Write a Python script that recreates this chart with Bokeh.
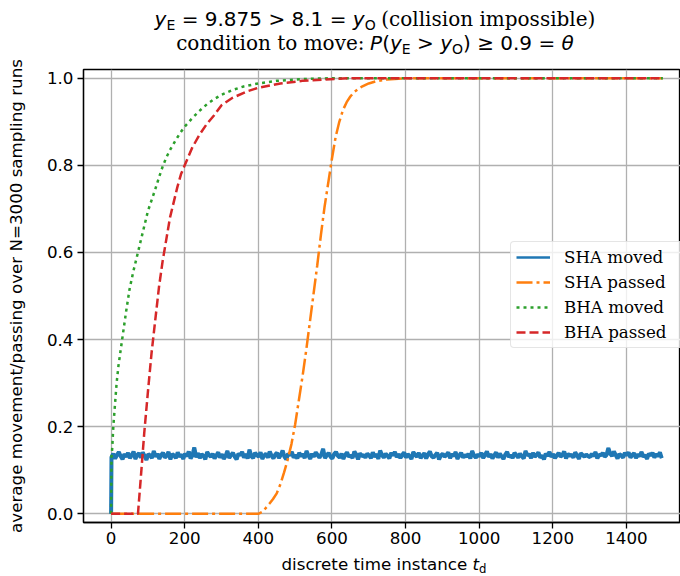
from bokeh.plotting import figure
from bokeh.models import Legend, LegendItem, Div, FixedTicker, NumeralTickFormatter
from bokeh.layouts import column
from bokeh.embed import file_html
from bokeh.resources import INLINE

# ---------------- data ----------------
x_ticks = [0, 200, 400, 600, 800, 1000, 1200, 1400]
y_ticks = [0.0, 0.2, 0.4, 0.6, 0.8, 1.0]
series_names = ["SHA moved", "SHA passed", "BHA moved", "BHA passed"]

# SHA moved: noisy plateau (sampled every 5 time steps after t=0)
blue_t = [0] + list(range(1, 1500, 5))
blue_moved = [0.000,
    0.130, 0.138, 0.127, 0.135, 0.142, 0.132, 0.125, 0.137, 0.131, 0.140, 0.128, 0.134, 0.143, 0.126, 0.135, 0.139, 0.129, 0.141, 0.133, 0.124,
    0.137, 0.134, 0.128, 0.144, 0.131, 0.138, 0.126, 0.135, 0.140, 0.129, 0.133, 0.142, 0.125, 0.137, 0.134, 0.128, 0.141, 0.131, 0.136, 0.126,
    0.138, 0.132, 0.143, 0.127, 0.134, 0.152, 0.130, 0.139, 0.128, 0.137, 0.133, 0.125, 0.142, 0.135, 0.131, 0.138, 0.127, 0.134, 0.141, 0.129,
    0.137, 0.126, 0.133, 0.144, 0.128, 0.135, 0.140, 0.131, 0.125, 0.138, 0.134, 0.142, 0.129, 0.137, 0.127, 0.147, 0.132, 0.128, 0.140, 0.135,
    0.131, 0.141, 0.126, 0.134, 0.138, 0.129, 0.143, 0.133, 0.127, 0.136, 0.140, 0.128, 0.135, 0.145, 0.131, 0.125, 0.138, 0.134, 0.142, 0.129,
    0.135, 0.127, 0.140, 0.132, 0.137, 0.128, 0.144, 0.134, 0.126, 0.138, 0.131, 0.141, 0.135, 0.129, 0.136, 0.149, 0.128, 0.134, 0.140, 0.131,
    0.127, 0.137, 0.142, 0.133, 0.129, 0.138, 0.126, 0.135, 0.141, 0.131, 0.134, 0.128, 0.143, 0.136, 0.125, 0.139, 0.132, 0.135, 0.129, 0.138,
    0.134, 0.128, 0.141, 0.131, 0.137, 0.126, 0.145, 0.135, 0.129, 0.138, 0.133, 0.127, 0.140, 0.134, 0.142, 0.130, 0.137, 0.128, 0.135, 0.141,
    0.129, 0.137, 0.132, 0.126, 0.142, 0.135, 0.131, 0.140, 0.128, 0.134, 0.139, 0.127, 0.136, 0.143, 0.132, 0.129, 0.135, 0.140, 0.125, 0.134,
    0.138, 0.131, 0.135, 0.141, 0.128, 0.137, 0.132, 0.142, 0.126, 0.134, 0.140, 0.129, 0.135, 0.131, 0.138, 0.127, 0.144, 0.134, 0.129, 0.136,
    0.132, 0.140, 0.128, 0.135, 0.143, 0.131, 0.137, 0.127, 0.134, 0.141, 0.129, 0.138, 0.132, 0.126, 0.136, 0.142, 0.130, 0.135, 0.128, 0.140,
    0.135, 0.129, 0.138, 0.132, 0.127, 0.144, 0.134, 0.137, 0.128, 0.140, 0.131, 0.135, 0.141, 0.129, 0.134, 0.125, 0.138, 0.133, 0.142, 0.131,
    0.137, 0.128, 0.134, 0.140, 0.131, 0.135, 0.143, 0.127, 0.138, 0.133, 0.136, 0.129, 0.141, 0.134, 0.126, 0.139, 0.135, 0.131, 0.136, 0.132,
    0.130, 0.138, 0.132, 0.142, 0.127, 0.136, 0.134, 0.140, 0.131, 0.135, 0.151, 0.138, 0.133, 0.143, 0.135, 0.127, 0.137, 0.134, 0.129, 0.140,
    0.134, 0.141, 0.129, 0.135, 0.139, 0.128, 0.136, 0.132, 0.142, 0.131, 0.135, 0.126, 0.138, 0.134, 0.140, 0.129, 0.137, 0.132, 0.141, 0.128,
]

# SHA passed
orange_t = [0, 400, 410, 420, 430, 440, 450, 460, 470, 480, 490, 500, 510, 520, 530, 540, 550, 560,
            570, 580, 590, 600, 610, 620, 630, 640, 650, 660, 680, 700, 720, 750, 800, 1499]
sha_passed = [0, 0, 0.004, 0.013, 0.023, 0.034, 0.047, 0.068, 0.095, 0.125, 0.16, 0.205, 0.26, 0.315,
              0.375, 0.44, 0.505, 0.57, 0.64, 0.705, 0.76, 0.815, 0.865, 0.9, 0.927, 0.945, 0.958,
              0.968, 0.98, 0.988, 0.993, 0.997, 1.0, 1.0]

# BHA moved
green_t = [0, 1, 3, 6, 10, 15, 20, 30, 40, 50, 60, 70, 80, 90, 100, 110, 120, 130, 140, 150, 160,
           170, 180, 190, 200, 220, 240, 260, 280, 300, 330, 360, 400, 450, 500, 550, 600, 1499]
bha_moved = [0, 0.13, 0.15, 0.2, 0.245, 0.3, 0.34, 0.4, 0.46, 0.515, 0.555, 0.59, 0.625, 0.66, 0.695,
             0.72, 0.745, 0.772, 0.797, 0.818, 0.835, 0.85, 0.864, 0.877, 0.889, 0.908, 0.925, 0.94,
             0.952, 0.962, 0.973, 0.981, 0.988, 0.994, 0.997, 0.999, 1.0, 1.0]

# BHA passed
red_t = [0, 73, 80, 90, 100, 110, 120, 130, 140, 150, 160, 170, 180, 190, 200, 220, 240, 260, 280,
         300, 330, 370, 400, 460, 520, 580, 650, 1499]
bha_passed = [0, 0, 0.075, 0.185, 0.28, 0.37, 0.445, 0.52, 0.58, 0.63, 0.68, 0.715, 0.75, 0.78, 0.80,
              0.84, 0.87, 0.895, 0.915, 0.938, 0.955, 0.97, 0.978, 0.988, 0.994, 0.997, 1.0, 1.0]

# ---------------- figure ----------------
SANS = "DejaVu Sans"
SERIF = "DejaVu Serif"
FS = "16.7px"

p = figure(width=680, height=492, x_range=(-75, 1547), y_range=(-0.02, 1.02),
           output_backend="svg", toolbar_location=None,
           min_border_left=83, min_border_right=0, min_border_top=9, min_border_bottom=30)
p.background_fill_color = "white"
p.border_fill_color = "white"
p.outline_line_color = "black"
p.outline_line_width = 1.3

p.xaxis.ticker = FixedTicker(ticks=x_ticks)
p.yaxis.ticker = FixedTicker(ticks=y_ticks)
p.yaxis.formatter = NumeralTickFormatter(format="0.0")

for ax in (p.xaxis[0], p.yaxis[0]):
    ax.axis_line_color = "black"
    ax.axis_line_width = 1.3
    ax.major_tick_line_color = "black"
    ax.major_tick_line_width = 1.3
    ax.major_tick_out = 6
    ax.major_tick_in = 0
    ax.minor_tick_line_color = None
    ax.major_label_text_font = SANS
    ax.major_label_text_font_size = FS
    ax.major_label_text_color = "black"
p.xaxis.major_label_standoff = 3
p.yaxis.major_label_standoff = 4

p.yaxis.axis_label = "average movement/passing over N=3000 sampling runs"
p.yaxis.axis_label_text_font = SANS
p.yaxis.axis_label_text_font_size = FS
p.yaxis.axis_label_text_font_style = "normal"
p.yaxis.axis_label_text_color = "black"
p.yaxis.axis_label_standoff = 18

p.grid.grid_line_color = "#b0b0b0"
p.grid.grid_line_width = 1.3

# thin copy of the SHA line (hidden under the dense band) gives the legend its normal-width glyph
r1_key = p.line(blue_t, blue_moved, line_color="#1f77b4", line_width=2.5)
r1 = p.line(blue_t, blue_moved, line_color="#1f77b4", line_width=4)
r2 = p.line(orange_t, sha_passed, line_color="#ff7f0e", line_width=2.5, line_dash="16 4 3 4")
r3 = p.line(green_t, bha_moved, line_color="#2ca02c", line_width=2.5, line_dash="3 4")
r4 = p.line(red_t, bha_passed, line_color="#d62728", line_width=2.5, line_dash="9 4")

legend = Legend(
    items=[LegendItem(label=n, renderers=[r]) for n, r in zip(series_names, [r1_key, r2, r3, r4])],
    location=(427, 174), orientation="vertical",
    label_text_font=SERIF, label_text_font_size=FS, label_text_color="black",
    glyph_width=34, glyph_height=20, label_height=20, label_width=115,
    label_standoff=14, padding=5, spacing=5, margin=0,
    border_line_color="#cccccc", border_line_width=1.3,
    background_fill_color="white", background_fill_alpha=0.8)
if "border_radius" in Legend.properties():
    legend.border_radius = 4
p.add_layout(legend)

# ---------------- title and x label (HTML for mixed fonts / subscripts) ----------------
sub = '<sub style="font-size:70%;line-height:0;vertical-align:-0.25em">{}</sub>'
sans_span = "<span style=\"font-family:'DejaVu Sans'\">{}</span>"
serif_span = "<span style=\"font-family:'DejaVu Serif'\">{}</span>"
line1 = (sans_span.format("<i>y</i>" + sub.format("E") + " = 9.875 &gt; 8.1 = <i>y</i>" + sub.format("O"))
         + " " + serif_span.format("(collision impossible)"))
line2 = (serif_span.format("condition to move:") + " "
         + sans_span.format("<i>P</i>(<i>y</i>" + sub.format("E") + " &gt; <i>y</i>" + sub.format("O")
                            + ") &#8805; 0.9 = <i>&#952;</i>"))
title_html = ('<div style="width:680px;box-sizing:border-box;padding:8px 0 0 70px;text-align:center;'
              'font-size:20px;line-height:23.5px;color:black;white-space:nowrap;">'
              + line1 + "<br>" + line2 + "</div>")
title_div = Div(text=title_html, width=680, height=60, margin=(0, 0, 0, 0))

xlabel_html = ('<div style="width:680px;box-sizing:border-box;padding:0 0 0 88px;text-align:center;'
               "font-family:'DejaVu Sans';font-size:16.7px;line-height:24px;color:black;white-space:nowrap;\">"
               + "discrete time instance <i>t</i>" + sub.format("d") + "</div>")
xlabel_div = Div(text=xlabel_html, width=680, height=24, margin=(0, 0, 0, 0))

layout = column(title_div, p, xlabel_div, spacing=0)

open("out.html", "w").write(file_html(layout, INLINE))
